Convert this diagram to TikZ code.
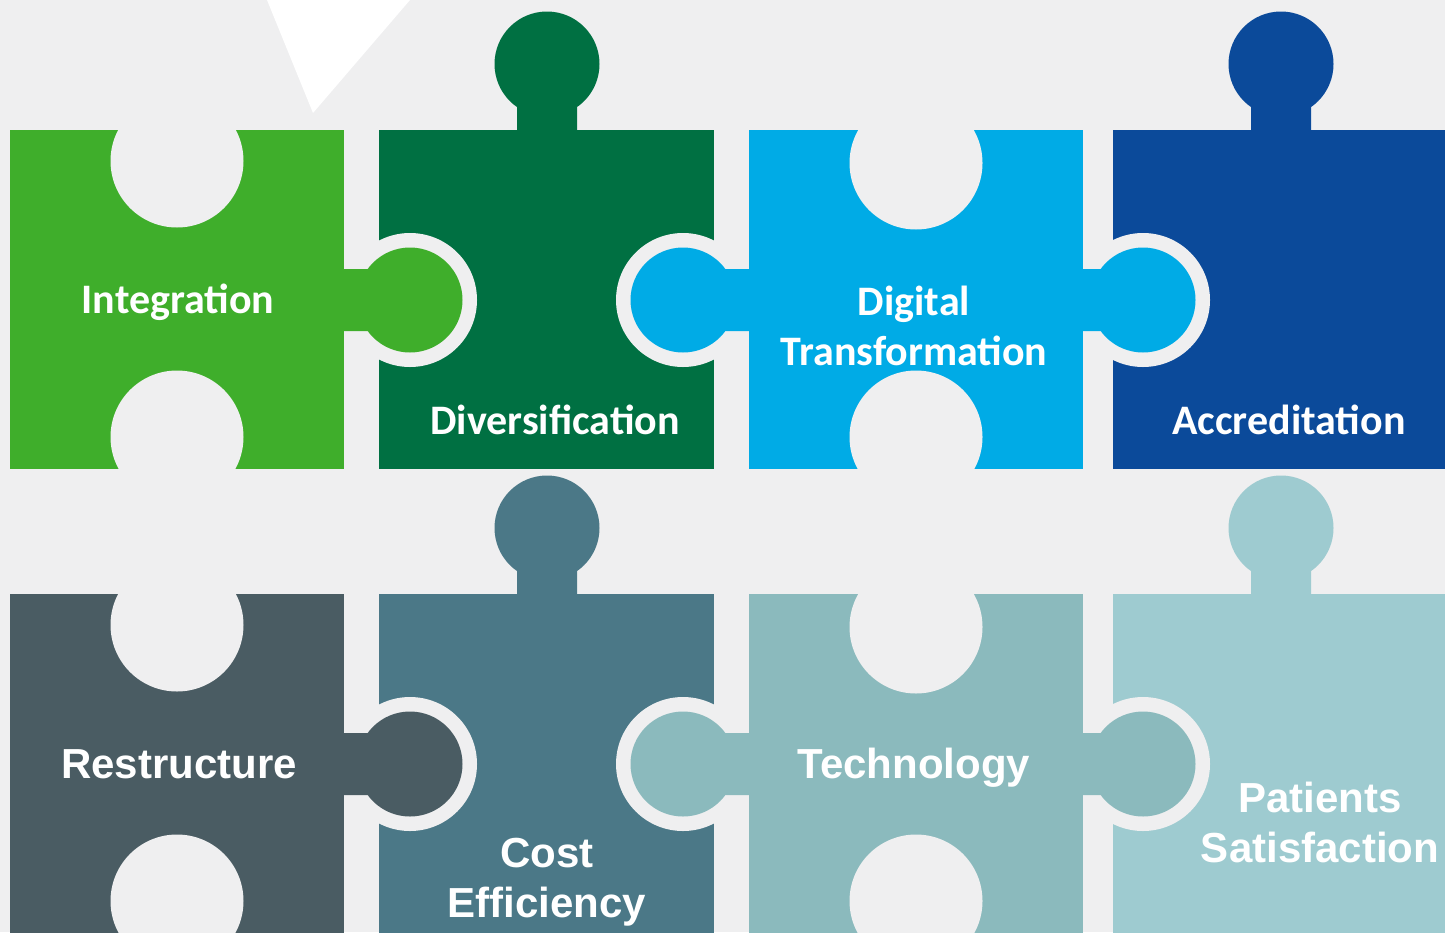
\documentclass[tikz,border=0pt]{standalone}
\usepackage{fontspec}
\usepackage{tikz}
\usetikzlibrary{positioning}

\newfontfamily\capfont{Carlito}
\newfontfamily\arlfont{Liberation Sans}

\definecolor{bgrey}{HTML}{EFEFF0}
\definecolor{cInteg}{HTML}{3FAE2B}
\definecolor{cDivers}{HTML}{007042}
\definecolor{cDigit}{HTML}{00ABE6}
\definecolor{cAccred}{HTML}{0B4A9A}
\definecolor{cRestr}{HTML}{4A5C63}
\definecolor{cCost}{HTML}{4B7887}
\definecolor{cTechn}{HTML}{8BBABD}
\definecolor{cPatient}{HTML}{9ECBD0}

\tikzset{
  uplabel/.style={text=white,inner sep=0pt,align=center,
    font=\capfont\bfseries\fontsize{42}{50}\selectfont},
  lowlabel/.style={text=white,inner sep=0pt,align=center,
    font=\arlfont\bfseries\fontsize{42}{50}\selectfont},
}

\begin{document}
\begin{tikzpicture}[x=1pt,y=-1pt]
  \useasboundingbox (0,0) rectangle (1445,932);
  \clip (0,0) rectangle (1445,932);
  \fill[bgrey] (0,0) rectangle (1445,932);
  \fill[white] (267,0) -- (410,0) -- (313,113) -- cycle;

  % two rows of four pieces, \y = upper edge of the row
  \foreach \y/\a/\b/\c/\d in {130/cInteg/cDivers/cDigit/cAccred,594/cRestr/cCost/cTechn/cPatient}
  {
    % square bodies
    \fill[\a] (10,\y) rectangle (344,\y+339);
    \fill[\b] (379,\y) rectangle (714,\y+339);
    \fill[\c] (749,\y) rectangle (1083,\y+339);
    \fill[\d] (1113,\y) rectangle (1460,\y+339);
    % holes (top and bottom) and the gaps round the side tabs
    \foreach \hx/\hy in {177/31,177/307,916/33,916/307}
      \fill[bgrey] (\hx,\y+\hy) circle[radius=66.5pt];
    \foreach \rx in {410,683,1143}
      \fill[bgrey] (\rx,\y+170) circle[radius=67pt];
    % side tabs
    \fill[\a] (410,\y+170) circle[radius=52.5pt] (336,\y+139) rectangle (385,\y+201);
    \fill[\c] (683,\y+170) circle[radius=52.5pt] (675,\y+139) rectangle (756,\y+201);
    \fill[\c] (1143,\y+170) circle[radius=52.5pt] (1070,\y+139) rectangle (1120,\y+201);
    % tabs on top
    \fill[\b] (547,\y-66) circle[radius=52.5pt] (517,\y-35) rectangle (577,\y+4);
    \fill[\d] (1281,\y-66) circle[radius=52.5pt] (1251,\y-35) rectangle (1311,\y+4);
  }

  \node[uplabel,anchor=base] (integ) at (178,313) {Integration};
  \node[uplabel,anchor=base] (divers) at (555,434) {Diversification};
  \node[uplabel] (digital) at (914,326) {Digital\\Transformation};
  \node[uplabel,anchor=base] (accred) at (1289,434) {Accreditation};

  \node[lowlabel,anchor=base] (restr) at (179,778) {Restructure};
  \node[lowlabel] (cost) at (547,882) {Cost\\Efficiency};
  \node[lowlabel,anchor=base] (techn) at (914,778) {Technology};
  \node[lowlabel] (patient) at (1320,822) {Patients\\Satisfaction};
\end{tikzpicture}
\end{document}
